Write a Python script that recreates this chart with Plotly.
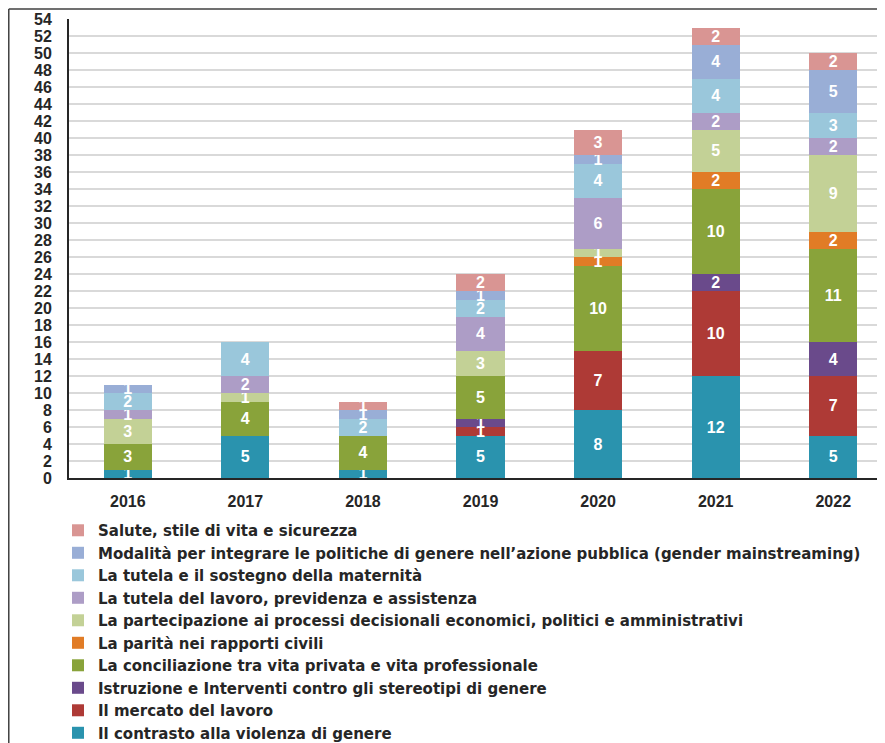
import plotly.graph_objects as go

years = ["2016", "2017", "2018", "2019", "2020", "2021", "2022"]

series_names = [
    "Il contrasto alla violenza di genere",
    "Il mercato del lavoro",
    "Istruzione e Interventi contro gli stereotipi di genere",
    "La conciliazione tra vita privata e vita professionale",
    "La parità nei rapporti civili",
    "La partecipazione ai processi decisionali economici, politici e amministrativi",
    "La tutela del lavoro, previdenza e assistenza",
    "La tutela e il sostegno della maternità",
    "Modalità per integrare le politiche di genere nell’azione pubblica (gender mainstreaming)",
    "Salute, stile di vita e sicurezza",
]

contrasto = [1, 5, 1, 5, 8, 12, 5]
mercato = [0, 0, 0, 1, 7, 10, 7]
istruzione = [0, 0, 0, 1, 0, 2, 4]
conciliazione = [3, 4, 4, 5, 10, 10, 11]
parita = [0, 0, 0, 0, 1, 2, 2]
partecipazione = [3, 1, 0, 3, 1, 5, 9]
tutela_lavoro = [1, 2, 0, 4, 6, 2, 2]
maternita = [2, 4, 2, 2, 4, 4, 3]
modalita = [1, 0, 1, 1, 1, 4, 5]
salute = [0, 0, 1, 2, 3, 2, 2]

series_values = [contrasto, mercato, istruzione, conciliazione, parita,
                 partecipazione, tutela_lavoro, maternita, modalita, salute]

colors = ["#2A93AE", "#AE3A36", "#6A4A8B", "#89A33A", "#E17C26",
          "#C3D196", "#AD9DC6", "#9AC7DB", "#99AED6", "#D99593"]

FONT = "Liberation Sans"
LEGFONT = "DejaVu Sans"

fig = go.Figure()
for name, vals, col in zip(series_names, series_values, colors):
    fig.add_trace(go.Bar(
        x=years,
        y=[v if v else None for v in vals],
        name=name,
        marker=dict(color=col, line=dict(width=0)),
        text=[str(v) if v else "" for v in vals],
        textposition="inside",
        insidetextanchor="middle",
        textangle=0,
        constraintext="none",
        textfont=dict(color="white", size=16, family=FONT, weight="bold"),
        width=0.41,
    ))

fig.update_layout(
    barmode="stack",
    width=877, height=735,
    margin=dict(l=61, r=0, t=11, b=265, autoexpand=False),
    paper_bgcolor="white",
    plot_bgcolor="white",
    font=dict(family=FONT, color="#262626"),
    uniformtext=dict(minsize=16, mode="show"),
    showlegend=True,
    legend=dict(
        orientation="v",
        traceorder="reversed",
        x=-0.0135, y=-0.0785, xanchor="left", yanchor="top",
        font=dict(size=15, color="#262626", family=LEGFONT, weight="bold"),
        itemwidth=30,
        tracegroupgap=0,
        bgcolor="rgba(0,0,0,0)",
    ),
    xaxis=dict(
        range=[-0.5, 6.44],
        showline=True, linecolor="#262626", linewidth=2,
        ticks="", showgrid=False, automargin=False,
        tickfont=dict(size=16, family=FONT, weight="bold", color="#262626"),
        ticklabelstandoff=8,
    ),
    yaxis=dict(
        range=[0, 54], dtick=2, tick0=0,
        showline=True, linecolor="#262626", linewidth=2,
        showgrid=True, gridcolor="#D9D9D9", gridwidth=2,
        ticks="", zeroline=False, automargin=False,
        tickfont=dict(size=16, family=FONT, weight="bold", color="#262626"),
        ticklabelstandoff=12,
    ),
    shapes=[
        dict(type="line", xref="paper", yref="paper",
             x0=-0.0738, x1=1.0, y0=1.0218, y1=1.0218,
             line=dict(color="#404040", width=1.5)),
        dict(type="line", xref="paper", yref="paper",
             x0=-0.0738, x1=-0.0738, y0=1.0218, y1=-0.58,
             line=dict(color="#404040", width=1.5)),
    ],
)

fig.write_html("out.html")
